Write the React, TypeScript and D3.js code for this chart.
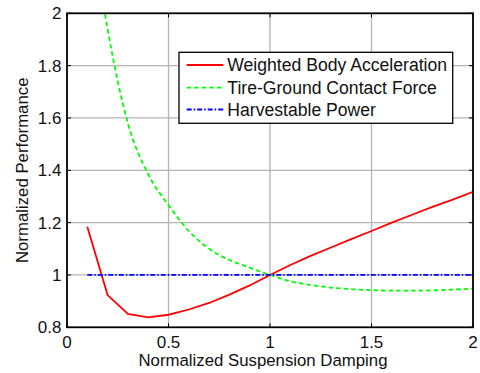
import React from "react";
import * as d3 from "d3";

const xValues = [0.1, 0.2, 0.3, 0.4, 0.5, 0.6, 0.7, 0.8, 0.9, 1.0, 1.1, 1.2, 1.3, 1.4, 1.5, 1.6, 1.7, 1.8, 1.9, 2.0];
const bodyAccel = [1.184, 0.923, 0.851, 0.838, 0.848, 0.868, 0.893, 0.925, 0.96, 1.0, 1.038, 1.073, 1.105, 1.137, 1.168, 1.2, 1.23, 1.26, 1.288, 1.318];
const contactForce = [2.45, 1.94, 1.58, 1.385, 1.267, 1.168, 1.1, 1.057, 1.028, 1.0, 0.976, 0.962, 0.952, 0.946, 0.942, 0.94, 0.94, 0.941, 0.944, 0.948];
const harvestPower = [1, 1, 1, 1, 1, 1, 1, 1, 1, 1, 1, 1, 1, 1, 1, 1, 1, 1, 1, 1];

const xTicks = [0, 0.5, 1, 1.5, 2];
const yTicks = [0.8, 1, 1.2, 1.4, 1.6, 1.8, 2];
const legendLabels = ["Weighted Body Acceleration", "Tire-Ground Contact Force", "Harvestable Power"];

const W = 480, H = 373;
const L = 67, R = 473, T = 13.3, B = 327.3;
const FONT = "'Liberation Sans', Arial, sans-serif";

export default function App() {
  const x = d3.scaleLinear().domain([0, 2]).range([L, R]);
  const y = d3.scaleLinear().domain([0.8, 2]).range([B, T]);

  const lin = d3.line<number>().x((_, i) => x(xValues[i])).y((d) => y(d));
  const smooth = d3.line<number>().x((_, i) => x(xValues[i])).y((d) => y(d)).curve(d3.curveMonotoneX);

  const series = [
    { vals: bodyAccel, color: "#ff0000", dash: undefined as string | undefined, gen: lin },
    { vals: contactForce, color: "#00ff00", dash: "4.5,3", gen: smooth },
    { vals: harvestPower, color: "#0000ff", dash: "5,2,1.5,2", gen: lin },
  ];

  const legX = 179, legY = 52.3, legW = 273.7, legH = 71;
  const rowY = [65, 87.7, 109.5];

  return (
    <svg width={W} height={H} style={{ position: "absolute", left: 0, top: 0, background: "#fff" }} fontFamily={FONT}>
      <defs>
        <clipPath id="plotclip">
          <rect x={L} y={T} width={R - L} height={B - T} />
        </clipPath>
      </defs>
      <rect x={0} y={0} width={W} height={H} fill="#fff" />
      {xTicks.slice(1, -1).map((t) => (
        <line key={"gx" + t} x1={x(t)} x2={x(t)} y1={T} y2={B} stroke="#b4b4b4" strokeWidth={1.3} />
      ))}
      {yTicks.slice(1, -1).map((t) => (
        <line key={"gy" + t} x1={L} x2={R} y1={y(t)} y2={y(t)} stroke="#b4b4b4" strokeWidth={1.3} />
      ))}
      {xTicks.map((t) => (
        <g key={"tx" + t}>
          <line x1={x(t)} x2={x(t)} y1={B} y2={B - 4} stroke="#000" strokeWidth={1} />
          <line x1={x(t)} x2={x(t)} y1={T} y2={T + 4} stroke="#000" strokeWidth={1} />
        </g>
      ))}
      {yTicks.map((t) => (
        <g key={"ty" + t}>
          <line x1={L} x2={L + 4} y1={y(t)} y2={y(t)} stroke="#000" strokeWidth={1} />
          <line x1={R} x2={R - 4} y1={y(t)} y2={y(t)} stroke="#000" strokeWidth={1} />
        </g>
      ))}
      <g clipPath="url(#plotclip)">
        {series.map((s, i) => (
          <path key={i} d={s.gen(s.vals) || ""} fill="none" stroke={s.color} strokeWidth={1.8} strokeDasharray={s.dash} />
        ))}
      </g>
      <rect x={L} y={T} width={R - L} height={B - T} fill="none" stroke="#000" strokeWidth={1.8} />
      {xTicks.map((t) => (
        <text key={"lx" + t} x={x(t)} y={348.3} textAnchor="middle" fontSize={17} fill="#111">
          {String(t)}
        </text>
      ))}
      {yTicks.map((t) => (
        <text key={"ly" + t} x={61.5} y={y(t)} dy="0.36em" textAnchor="end" fontSize={17} fill="#111">
          {String(t)}
        </text>
      ))}
      <text x={(L + R) / 2 - 7} y={366} textAnchor="middle" fontSize={16.8} fill="#111">
        Normalized Suspension Damping
      </text>
      <text transform={`translate(27.5,${(T + B) / 2}) rotate(-90)`} textAnchor="middle" fontSize={16.8} fill="#111">
        Normalized Performance
      </text>
      <rect x={legX} y={legY} width={legW} height={legH} fill="#fff" stroke="#000" strokeWidth={1.3} />
      {series.map((s, i) => (
        <g key={"leg" + i}>
          <line x1={186.7} x2={223.3} y1={rowY[i]} y2={rowY[i]} stroke={s.color} strokeWidth={1.8} strokeDasharray={s.dash} />
          <text x={227.3} y={rowY[i]} dy="0.36em" fontSize={17.6} fill="#111">
            {legendLabels[i]}
          </text>
        </g>
      ))}
    </svg>
  );
}
